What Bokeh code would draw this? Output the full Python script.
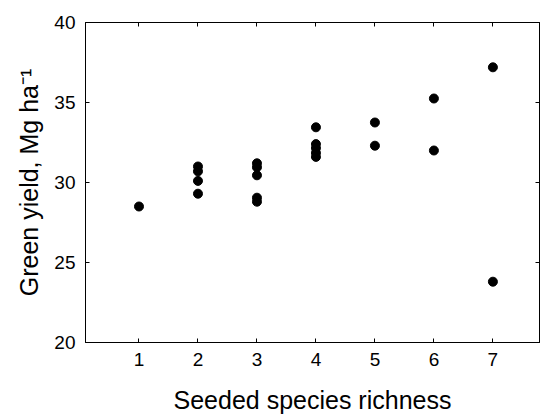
from bokeh.plotting import figure
from bokeh.models import LinearAxis, FixedTicker, Range1d
from bokeh.embed import file_html
from bokeh.resources import INLINE

# Data
richness = [1, 2, 2, 2, 2, 3, 3, 3, 3, 3, 4, 4, 4, 4, 4, 5, 5, 6, 6, 7, 7]
green_yield = [28.5, 31.0, 30.7, 30.1, 29.3, 31.2, 30.95, 30.45, 29.05, 28.8,
               33.45, 32.4, 32.15, 31.85, 31.6, 33.75, 32.3, 35.25, 32.0, 37.2, 23.8]
x_ticks = [1, 2, 3, 4, 5, 6, 7]
y_ticks = [20, 25, 30, 35, 40]

FONT = "Liberation Sans"

p = figure(width=540, height=416, output_backend="svg", toolbar_location=None,
           x_range=Range1d(0.093, 7.79), y_range=Range1d(20, 40),
           x_axis_label="Seeded species richness",
           y_axis_label="Green yield, Mg ha\u207b\u00b9",
           min_border_left=85, min_border_right=1, min_border_top=22, min_border_bottom=70)

p.grid.visible = False
p.background_fill_color = "white"
p.border_fill_color = "white"
p.outline_line_color = "black"
p.outline_line_width = 1

p.scatter(richness, green_yield, size=9, color="black", marker="circle")

for ax, ticks in ((p.xaxis[0], x_ticks), (p.yaxis[0], y_ticks)):
    ax.ticker = FixedTicker(ticks=ticks)
    ax.major_tick_in = 4
    ax.major_tick_out = 0
    ax.minor_tick_line_color = None
    ax.axis_line_color = "black"
    ax.major_tick_line_color = "black"
    ax.major_label_text_font = FONT
    ax.major_label_text_font_size = "19px"
    ax.major_label_text_color = "black"
    ax.axis_label_text_font = FONT
    ax.axis_label_text_font_size = "25px"
    ax.axis_label_text_font_style = "normal"
    ax.axis_label_text_color = "black"

p.xaxis[0].major_label_standoff = 10
p.xaxis[0].axis_label_standoff = 17
p.yaxis[0].major_label_standoff = 10
p.yaxis[0].axis_label_standoff = 8

# Mirror axes (ticks only) on top and right
top = LinearAxis(ticker=FixedTicker(ticks=x_ticks))
right = LinearAxis(ticker=FixedTicker(ticks=y_ticks))
for ax in (top, right):
    ax.major_tick_in = 4
    ax.major_tick_out = 0
    ax.minor_tick_line_color = None
    ax.axis_line_color = "black"
    ax.major_tick_line_color = "black"
    ax.major_label_text_font_size = "0px"
    ax.major_label_standoff = 0
    ax.major_label_text_color = None
p.add_layout(top, "above")
p.add_layout(right, "right")

open("out.html", "w").write(file_html(p, INLINE))
